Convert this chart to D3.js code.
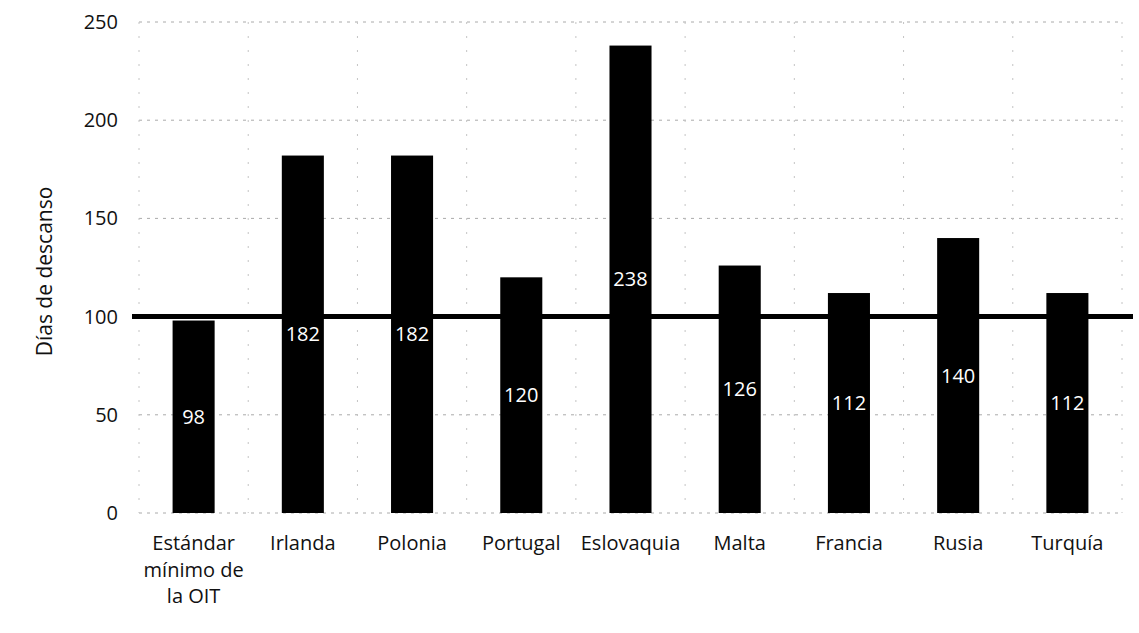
<!DOCTYPE html>
<html>
<head>
<meta charset="utf-8">
<script src="https://cdn.jsdelivr.net/npm/d3@7"></script>
<style>
  body { margin: 0; background: #fff; }
  text { font-family: "Open Sans", sans-serif; }
</style>
</head>
<body>
<svg id="chart" width="1139" height="633"></svg>
<script>
'use strict';

const categories = [
  ['Estándar', 'mínimo de', 'la OIT'],
  ['Irlanda'], ['Polonia'], ['Portugal'], ['Eslovaquia'],
  ['Malta'], ['Francia'], ['Rusia'], ['Turquía']
];
const values = [98, 182, 182, 120, 238, 126, 112, 140, 112];
const yTicks = [0, 50, 100, 150, 200, 250];
const reference = 100;
const yTitle = 'Días de descanso';

const FONT_SIZE = 20;
const LEFT = 139;
const RIGHT = 1122;
const TOP = 22;
const BOTTOM = 513;

let svg = d3.select('#chart');

let x = d3.scaleBand()
  .domain(d3.range(categories.length))
  .range([LEFT, RIGHT])
  .paddingInner(0.615)
  .paddingOuter(0.3075);

let y = d3.scaleLinear()
  .domain([0, 250])
  .range([BOTTOM, TOP]);

// horizontal grid
svg.append('g')
  .selectAll('line')
  .data(yTicks)
  .enter().append('line')
    .attr('x1', LEFT)
    .attr('x2', RIGHT)
    .attr('y1', function(d) { return y(d); })
    .attr('y2', function(d) { return y(d); })
    .attr('stroke', '#aaa')
    .attr('stroke-width', 1)
    .attr('stroke-dasharray', '3,5');

// vertical grid at category boundaries
let bounds = d3.range(categories.length + 1).map(function(i) {
  return LEFT + i * x.step();
});
svg.append('g')
  .selectAll('line')
  .data(bounds)
  .enter().append('line')
    .attr('x1', function(d) { return d; })
    .attr('x2', function(d) { return d; })
    .attr('y1', TOP)
    .attr('y2', BOTTOM)
    .attr('stroke', '#c4c4c4')
    .attr('stroke-width', 1)
    .attr('stroke-dasharray', '2,12');

// y axis labels
let yAxis = d3.axisLeft(y).tickValues(yTicks).tickSize(0).tickPadding(21);
svg.append('g')
  .attr('transform', 'translate(' + LEFT + ',0)')
  .call(yAxis)
  .call(function(g) { g.select('.domain').remove(); })
  .selectAll('text')
    .attr('font-size', FONT_SIZE)
    .attr('font-family', '"Open Sans", sans-serif')
    .attr('fill', '#111');

svg.append('text')
  .attr('transform', 'translate(52,' + ((TOP + BOTTOM) / 2 + 4) + ') rotate(-90)')
  .attr('text-anchor', 'middle')
  .attr('font-size', 21)
  .attr('fill', '#111')
  .text(yTitle);

// bars
svg.append('g')
  .selectAll('rect')
  .data(values)
  .enter().append('rect')
    .attr('x', function(d, i) { return x(i); })
    .attr('y', function(d) { return y(d); })
    .attr('width', x.bandwidth())
    .attr('height', function(d) { return y(0) - y(d); })
    .attr('fill', '#000');

// reference line
svg.append('line')
  .attr('x1', 132)
  .attr('x2', 1133)
  .attr('y1', y(reference))
  .attr('y2', y(reference))
  .attr('stroke', '#000')
  .attr('stroke-width', 5);

// value labels centred in bars
svg.append('g')
  .selectAll('text')
  .data(values)
  .enter().append('text')
    .attr('x', function(d, i) { return x(i) + x.bandwidth() / 2; })
    .attr('y', function(d) { return y(d / 2); })
    .attr('dy', '0.35em')
    .attr('text-anchor', 'middle')
    .attr('font-size', FONT_SIZE)
    .attr('fill', '#fff')
    .text(function(d) { return d; });

// category labels
let cat = svg.append('g')
  .selectAll('text')
  .data(categories)
  .enter().append('text')
    .attr('x', function(d, i) { return x(i) + x.bandwidth() / 2; })
    .attr('y', 550)
    .attr('text-anchor', 'middle')
    .attr('font-size', FONT_SIZE)
    .attr('fill', '#111');

cat.selectAll('tspan')
  .data(function(d) { return d; })
  .enter().append('tspan')
    .attr('x', function() { return d3.select(this.parentNode).attr('x'); })
    .attr('dy', function(d, i) { return i === 0 ? 0 : 26.5; })
    .text(function(d) { return d; });
</script>
</body>
</html>
